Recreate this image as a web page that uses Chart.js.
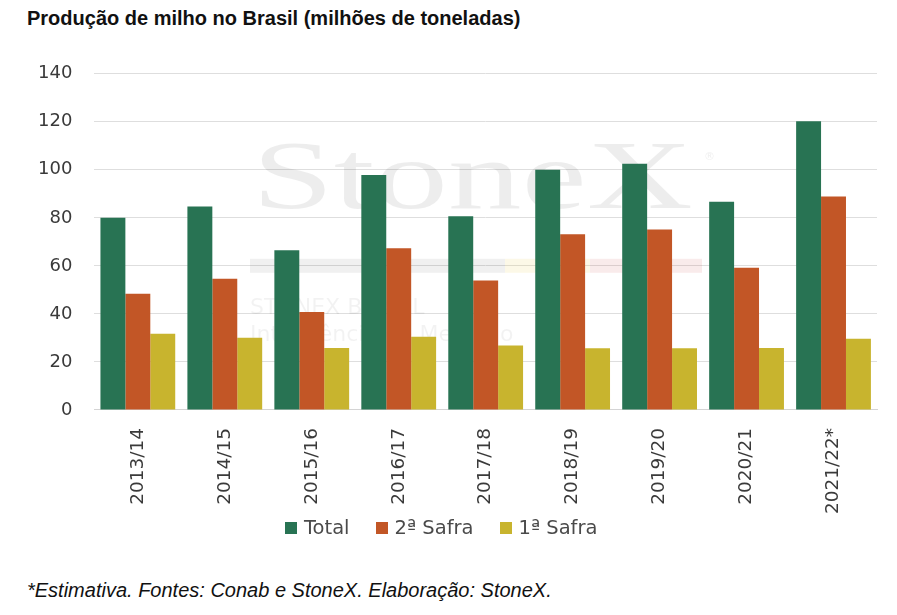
<!DOCTYPE html>
<html>
<head>
<meta charset="utf-8">
<script src="https://cdn.jsdelivr.net/npm/chart.js@4/dist/chart.umd.min.js"></script>
<style>
    html, body { margin: 0; padding: 0; background: #fff; }
    body { width: 897px; height: 615px; position: relative; overflow: hidden; }
    .title { position: absolute; left: 27px; top: 7px; font: bold 20px "Liberation Sans", Arial, sans-serif; color: #111; }
    .chart-box { position: absolute; left: 0; top: 41px; width: 897px; height: 483px; }
    .legend { position: absolute; left: 285px; top: 516px; display: flex; align-items: center; font: 19.5px "DejaVu Sans", sans-serif; color: #4a4a4a; white-space: nowrap; }
    .legend .item { display: flex; align-items: center; margin-right: 26px; }
    .legend .box { width: 12px; height: 12px; margin-right: 7px; }
    .note { position: absolute; left: 27px; top: 579px; font: italic 20px "Liberation Sans", Arial, sans-serif; color: #111; }
</style>
</head>
<body>
<div class="title">Produção de milho no Brasil (milhões de toneladas)</div>
<div class="chart-box"><canvas id="chart"></canvas></div>
<div class="legend" id="legend"></div>
<div class="note">*Estimativa. Fontes: Conab e StoneX. Elaboração: StoneX.</div>
<script>
// safras
const safras = ['2013/14', '2014/15', '2015/16', '2016/17', '2017/18', '2018/19', '2019/20', '2020/21', '2021/22*'];

// milhões de toneladas
const total = [80.0, 84.7, 66.5, 97.8, 80.7, 100.0, 102.5, 86.7, 120.2];
const segundaSafra = [48.4, 54.6, 40.8, 67.3, 53.9, 73.2, 75.1, 59.2, 88.9];
const primeiraSafra = [31.7, 30.1, 25.8, 30.5, 26.8, 25.7, 25.7, 25.8, 29.6];

const yTicks = [0, 20, 40, 60, 80, 100, 120, 140];

const colors = { total: '#287353', segunda: '#c25626', primeira: '#c8b42e' };

// faint logo behind the bars
const watermark = {
    id: 'watermark',
    beforeDatasetsDraw(chart) {
        const { ctx, chartArea } = chart;
        const top = chartArea.top;
        ctx.save();
        ctx.fillStyle = 'rgba(0, 0, 0, 0.07)';
        ctx.textAlign = 'left';
        ctx.save();
        ctx.translate(252, top + 134);
        ctx.scale(1.5, 1);
        ctx.font = '98px "Liberation Serif", serif';
        ctx.fillText('StoneX', 0, 0);
        ctx.restore();
        ctx.font = '11px "DejaVu Sans", sans-serif';
        ctx.fillText('®', 704, top + 86);
        ctx.fillStyle = 'rgba(0, 0, 0, 0.06)';
        ctx.fillRect(250, top + 185, 255, 14);
        ctx.fillStyle = 'rgba(230, 200, 60, 0.12)';
        ctx.fillRect(505, top + 185, 85, 14);
        ctx.fillStyle = 'rgba(200, 60, 60, 0.10)';
        ctx.fillRect(590, top + 185, 112, 14);
        ctx.fillStyle = 'rgba(0, 0, 0, 0.05)';
        ctx.font = '22px "DejaVu Sans", sans-serif';
        ctx.fillText('STONEX BRASIL', 250, top + 240);
        ctx.fillText('Inteligência de Mercado', 250, top + 267);
        ctx.restore();
    }
};

const chart = new Chart(document.getElementById('chart').getContext('2d'), {
    type: 'bar',
    data: {
        labels: safras,
        datasets: [
            { label: 'Total', data: total, backgroundColor: colors.total },
            { label: '2ª Safra', data: segundaSafra, backgroundColor: colors.segunda },
            { label: '1ª Safra', data: primeiraSafra, backgroundColor: colors.primeira }
        ]
    },
    options: {
        responsive: true,
        maintainAspectRatio: false,
        animation: false,
        layout: { padding: { left: 16, right: 20, top: 0, bottom: 0 } },
        datasets: { bar: { categoryPercentage: 0.86, barPercentage: 1.0 } },
        plugins: {
            legend: { display: false },
            tooltip: { enabled: false }
        },
        scales: {
            x: {
                grid: { display: false },
                border: { display: true, color: '#d4d4d4', width: 1 },
                ticks: {
                    minRotation: 90, maxRotation: 90,
                    padding: 10,
                    color: '#3a3a3a',
                    font: { family: '"DejaVu Sans", sans-serif', size: 18.5 }
                }
            },
            y: {
                min: 0, max: 140,
                afterBuildTicks: axis => { axis.ticks = yTicks.map(v => ({ value: v })); },
                grid: { color: '#dedede', lineWidth: 1, drawTicks: false },
                border: { display: false },
                ticks: {
                    padding: 22,
                    color: '#3a3a3a',
                    font: { family: '"DejaVu Sans", sans-serif', size: 18 }
                }
            }
        }
    },
    plugins: [watermark]
});

// legend below the axis labels, built from the datasets
document.getElementById('legend').innerHTML = chart.data.datasets.map(ds => `
    <span class="item"><span class="box" style="background:${ds.backgroundColor}"></span>${ds.label}</span>
`).join('');
</script>
</body>
</html>
